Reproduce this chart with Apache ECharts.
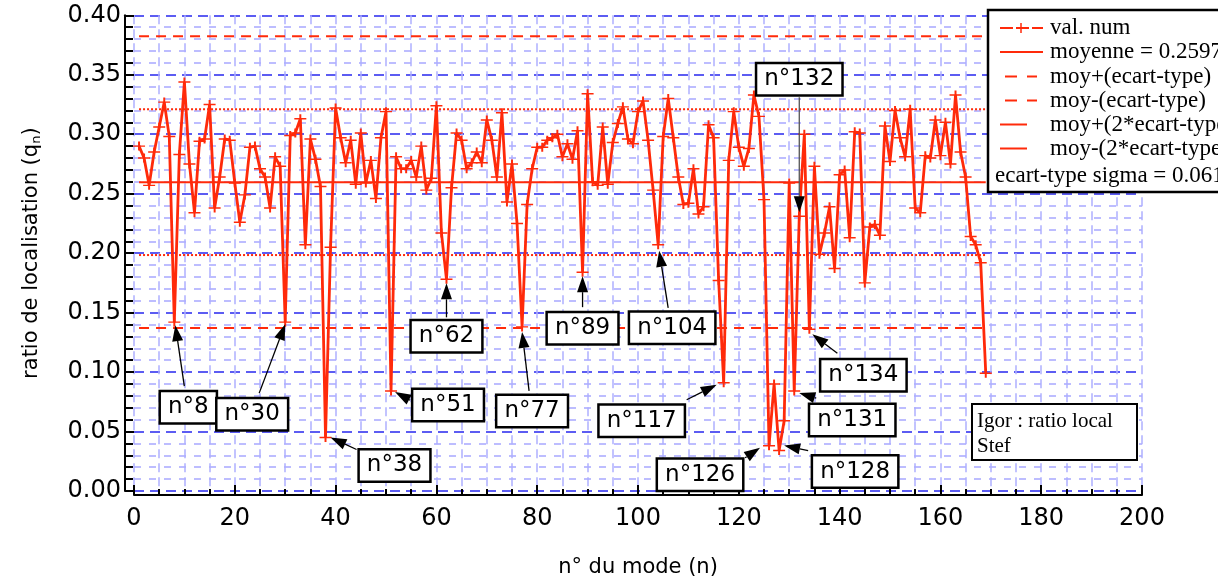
<!DOCTYPE html>
<html><head><meta charset="utf-8">
<script src="https://cdn.jsdelivr.net/npm/echarts@6/dist/echarts.min.js"></script>
<style>html,body{margin:0;padding:0;background:#fff}#c{width:1218px;height:583px}</style>
</head><body><div id="c"></div>
<script>
// ---------- data ----------
const firstMode = 1;
const ratio = [
0.290,0.280,0.257,0.285,0.306,0.327,0.298,0.142,0.283,0.344,
0.275,0.234,0.294,0.296,0.325,0.238,0.264,0.296,0.295,0.259,
0.226,0.249,0.289,0.290,0.271,0.264,0.238,0.281,0.273,0.142,
0.299,0.301,0.313,0.207,0.296,0.279,0.256,0.045,0.205,0.322,
0.297,0.276,0.295,0.258,0.301,0.259,0.278,0.246,0.297,0.319,
0.084,0.281,0.271,0.271,0.278,0.264,0.290,0.253,0.263,0.324,
0.217,0.178,0.255,0.301,0.295,0.271,0.276,0.285,0.276,0.312,
0.295,0.264,0.318,0.243,0.275,0.225,0.138,0.241,0.271,0.289,
0.289,0.295,0.297,0.300,0.281,0.292,0.279,0.303,0.184,0.334,
0.260,0.257,0.306,0.258,0.293,0.309,0.323,0.296,0.292,0.319,
0.328,0.295,0.253,0.207,0.298,0.330,0.297,0.264,0.241,0.242,
0.271,0.233,0.239,0.308,0.297,0.177,0.091,0.278,0.319,0.289,
0.273,0.288,0.333,0.315,0.245,0.038,0.090,0.034,0.059,0.259,
0.084,0.231,0.300,0.136,0.273,0.199,0.217,0.239,0.187,0.266,
0.270,0.213,0.302,0.301,0.175,0.222,0.224,0.215,0.307,0.277,
0.320,0.297,0.281,0.321,0.238,0.234,0.282,0.280,0.312,0.282,
0.310,0.275,0.333,0.285,0.264,0.214,0.207,0.192,0.099];
const moyenne = 0.2597;
const sigma = 0.0613;
const legendNames = ['val. num','moyenne = 0.2597','moy+(ecart-type)','moy-(ecart-type)','moy+(2*ecart-type)','moy-(2*ecart-type)'];
const sigmaText = 'ecart-type sigma = 0.0613';
const noteLines = ['Igor : ratio local','Stef'];
const annotModes = [8,30,38,51,62,77,89,104,117,126,128,131,132,134];

// ---------- layout (pixel offsets of annotation boxes / arrows from their point) ----------
const annotLayout = {
  8:{box:[14,85],tail:[10,64],tip:[1,3]},
  30:{box:[-33,92],tail:[-26,71],tip:[0,2]},
  38:{box:[69,28],tail:[31,12],tip:[5,0]},
  51:{box:[57,14],tail:[19,9],tip:[4,1]},
  62:{box:[0,57],tail:[0,38],tip:[0,4]},
  77:{box:[10,84],tail:[7,64],tip:[0,5]},
  89:{box:[0,56],tail:[0,35],tip:[0,4]},
  104:{box:[14,83],tail:[10,63],tip:[1,6]},
  117:{box:[-82,38],tail:[-37,17],tip:[-7,2]},
  126:{box:[-69,29],tail:[-24,12],tip:[-9,2]},
  128:{box:[76,21],tail:[29,0],tip:[5,-5]},
  131:{box:[58,29],tail:[22,7],tip:[5,2]},
  132:{box:[0,-137],tail:[0,-119],tip:[0,-4],color:'#555'},
  134:{box:[54,46],tail:[28,24],tip:[3,5]}
};

const RED = '#ff2a0a';
const FONT = 'DejaVu Sans';

const chart = echarts.init(document.getElementById('c'), null, {renderer:'canvas'});
const seriesData = ratio.map((v,i)=>[i+firstMode, v]);
const lastMode = ratio.length - 1 + firstMode;
const hline = v => [[firstMode, v],[lastMode, v]];

const refLine = (name, v, type) => ({
  name, type:'line', data: hline(v), symbol:'none', silent:true, z:3,
  lineStyle:{color:RED, width:2, type}
});

chart.setOption({
  animation:false,
  grid:{left:134, right:76, top:15.3, bottom:91.7},
  xAxis:{
    type:'value', min:0, max:200, interval:20, offset:4,
    axisLine:{onZero:false, lineStyle:{color:'#000', width:2}},
    axisTick:{inside:true, length:10, lineStyle:{color:'#000', width:2}},
    minorTick:{show:true, splitNumber:4, length:6, lineStyle:{color:'#000', width:2}},
    axisLabel:{margin:12, color:'#000', fontFamily:FONT, fontSize:24},
    splitLine:{show:true, lineStyle:{color:'#aeb0ff', type:[9,5], width:1.5}},
    minorSplitLine:{show:true, lineStyle:{color:'#aeb0ff', type:[9,5], width:1.5}},
    name:'n° du mode (n)', nameLocation:'middle', nameGap:62,
    nameTextStyle:{color:'#000', fontFamily:FONT, fontSize:21}
  },
  yAxis:{
    type:'value', min:0, max:0.4, interval:0.05, offset:9,
    axisLine:{onZero:false, lineStyle:{color:'#000', width:2}},
    axisTick:{inside:true, length:9, lineStyle:{color:'#000', width:2}},
    minorTick:{show:true, splitNumber:5, length:8, lineStyle:{color:'#000', width:2}},
    axisLabel:{margin:4, color:'#000', fontFamily:FONT, fontSize:24, formatter:v=>v.toFixed(2)},
    splitLine:{show:true, lineStyle:{color:'#5c5cf2', type:[10,6], width:2}},
    minorSplitLine:{show:true, lineStyle:{color:'#a8a8ff', type:[7,8], width:1.5}},
    name:'ratio de localisation (q{sub|n})', nameLocation:'middle', nameGap:82,
    nameTextStyle:{color:'#000', fontFamily:FONT, fontSize:21,
      rich:{sub:{fontFamily:FONT, fontSize:13, color:'#000', padding:[9,0,0,0]}}}
  },
  series:[
    {name:legendNames[0], type:'line', data:seriesData, z:5,
     symbol:'path://M0,4 L10,4 M5,0 L5,8', symbolSize:[12,9],
     itemStyle:{color:'rgba(0,0,0,0)', borderColor:RED, borderWidth:1.7},
     lineStyle:{color:RED, width:2.8}},
    refLine(legendNames[1], moyenne, 'solid'),
    refLine(legendNames[2], moyenne + 2*sigma, [10,7]),
    refLine(legendNames[3], moyenne - 2*sigma, [10,7]),
    refLine(legendNames[4], moyenne + sigma, [2,2]),
    refLine(legendNames[5], moyenne - sigma, [2,2])
  ]
});

// ---------- annotations ----------
const graphics = [];
function arrow(p0, p1, color, headL, headW){
  const dx = p1[0]-p0[0], dy = p1[1]-p0[1];
  const len = Math.hypot(dx,dy) || 1;
  const ux = dx/len, uy = dy/len;
  const bx = p1[0]-ux*headL, by = p1[1]-uy*headL;
  graphics.push({type:'line', z:20, shape:{x1:p0[0], y1:p0[1], x2:bx, y2:by}, style:{stroke:color, lineWidth:1.3}});
  graphics.push({type:'polygon', z:20, shape:{points:[[p1[0],p1[1]],[bx-uy*headW/2, by+ux*headW/2],[bx+uy*headW/2, by-ux*headW/2]]}, style:{fill:'#000'}});
}
annotModes.forEach(n => {
  const L = annotLayout[n];
  const p = chart.convertToPixel({gridIndex:0}, [n, ratio[n-firstMode]]);
  const col = L.color || '#000';
  arrow([p[0]+L.tail[0], p[1]+L.tail[1]], [p[0]+L.tip[0], p[1]+L.tip[1]], col, 16, 11);
  graphics.push({type:'text', z:30, style:{
    text:'n°'+n, x:p[0]+L.box[0], y:p[1]+L.box[1], align:'center', verticalAlign:'middle',
    font:'23px "DejaVu Sans"', fill:'#000', backgroundColor:'#fff',
    borderColor:'#000', borderWidth:2.5, padding:[4,7,3,7]
  }});
});

// ---------- legend box ----------
graphics.push({type:'rect', z:40, shape:{x:988, y:10, width:260, height:182}, style:{fill:'#fff', stroke:'#000', lineWidth:2.5}});
const rowsY = [28, 52, 76.5, 100.5, 124.5, 148.5];
rowsY.forEach((y,i)=>{
  graphics.push({type:'text', z:41, style:{text:legendNames[i], x:1050, y:y, align:'left', verticalAlign:'middle', font:'23px "Liberation Serif"', fill:'#000'}});
});
const seg = (x1,y,x2)=>graphics.push({type:'line', z:41, shape:{x1, y1:y, x2, y2:y}, style:{stroke:RED, lineWidth:2}});
seg(1000,rowsY[0],1013); seg(1016,rowsY[0],1029); seg(1032,rowsY[0],1043);
graphics.push({type:'line', z:41, shape:{x1:1021, y1:rowsY[0]-5, x2:1021, y2:rowsY[0]+5}, style:{stroke:RED, lineWidth:1.5}});
seg(1000,rowsY[1],1043);
seg(1005,rowsY[2],1017); seg(1027,rowsY[2],1037);
seg(1005,rowsY[3],1017); seg(1027,rowsY[3],1037);
seg(1000,rowsY[4],1027);
seg(1000,rowsY[5],1027);
graphics.push({type:'text', z:41, style:{text:sigmaText, x:995, y:176, align:'left', verticalAlign:'middle', font:'23px "Liberation Serif"', fill:'#000'}});

// ---------- note box ----------
graphics.push({type:'rect', z:40, shape:{x:972, y:404, width:165, height:56}, style:{fill:'#fff', stroke:'#000', lineWidth:2}});
graphics.push({type:'text', z:41, style:{text:noteLines[0], x:977, y:421, align:'left', verticalAlign:'middle', font:'21px "Liberation Serif"', fill:'#000'}});
graphics.push({type:'text', z:41, style:{text:noteLines[1], x:977, y:446, align:'left', verticalAlign:'middle', font:'21px "Liberation Serif"', fill:'#000'}});

chart.setOption({graphic:graphics});
</script>
</body></html>
